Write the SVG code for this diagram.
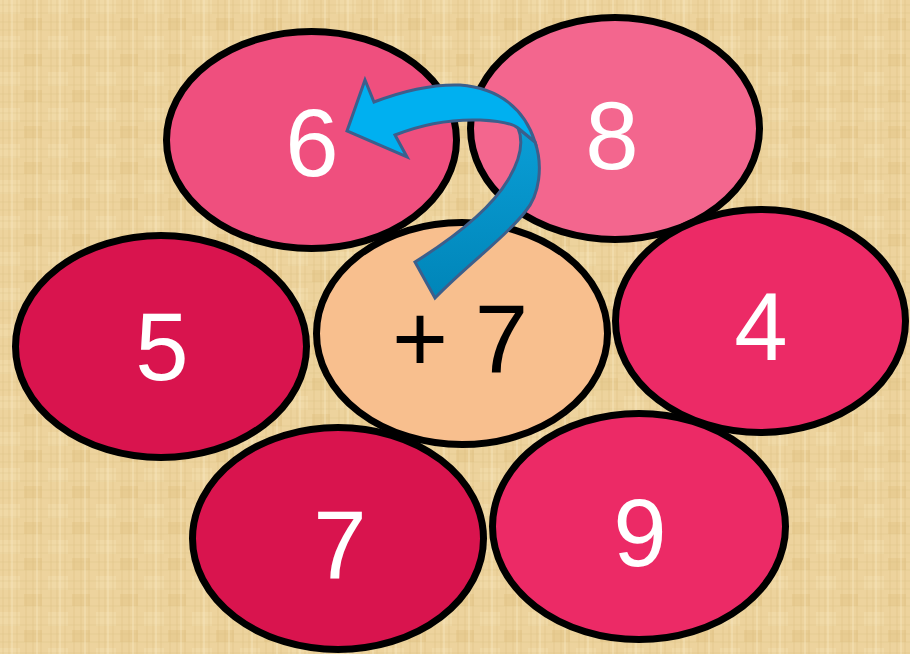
<svg xmlns="http://www.w3.org/2000/svg" width="910" height="654" viewBox="0 0 910 654">
  <style>
    .pet { stroke: #000; stroke-width: 7; }
    .num { font-family: "Liberation Sans", Arial, sans-serif; font-size: 96px; fill: #fff; text-anchor: middle; }
    .ctr { fill: #000; }
    .arw { stroke: #3c5f8c; stroke-width: 3; stroke-linejoin: miter; }
  </style>
  <defs>
    <pattern id="paper" width="48" height="36" patternUnits="userSpaceOnUse">
      <rect width="48" height="36" fill="#edd39d"/>
      <rect x="0" y="0" width="20" height="14" fill="#f2dcaa" opacity="0.7"/>
      <rect x="24" y="18" width="18" height="12" fill="#e4c687" opacity="0.5"/>
      <path d="M3 0V36M9 0V36M17 0V36M26 0V36M33 0V36M41 0V36" stroke="#d6b877" stroke-width="1" opacity="0.35"/>
      <path d="M0 5H48M0 13H48M0 22H48M0 30H48" stroke="#dabd7f" stroke-width="1" opacity="0.35"/>
      <path d="M12 0V36M37 0V36" stroke="#f7e6bf" stroke-width="1.5" opacity="0.5"/>
    </pattern>
    <linearGradient id="dk" x1="0" y1="0" x2="0" y2="1">
      <stop offset="0" stop-color="#0a9ed6"/>
      <stop offset="1" stop-color="#0085b8"/>
    </linearGradient>
  </defs>
  <rect width="910" height="654" fill="url(#paper)"/>

  <g id="n6"><ellipse class="pet" cx="311.5" cy="140" rx="145" ry="108.5" fill="#ef4f7e"/><text class="num" x="312" y="176">6</text></g>
  <g id="n8"><ellipse class="pet" cx="615" cy="128.5" rx="144.5" ry="111" fill="#f3668e"/><text class="num" x="612" y="169">8</text></g>
  <g id="n5"><ellipse class="pet" cx="161" cy="346.5" rx="145.5" ry="111" fill="#d9144e"/><text class="num" x="162" y="380">5</text></g>
  <g id="n4"><ellipse class="pet" cx="760.5" cy="321" rx="145" ry="111.5" fill="#ec2a66"/><text class="num" x="761" y="360">4</text></g>
  <g id="n7"><ellipse class="pet" cx="338" cy="538.5" rx="145.5" ry="111" fill="#d9144e"/><text class="num" x="340" y="578">7</text></g>
  <g id="n9"><ellipse class="pet" cx="639" cy="526.5" rx="146.5" ry="113" fill="#ec2a66"/><text class="num" x="640" y="566">9</text></g>
  <g id="center"><ellipse class="pet" cx="462" cy="333.5" rx="145.5" ry="111" fill="#f8bf8e"/><text class="num ctr" x="460" y="372">+ 7</text></g>

  <g id="connectors">
    <path class="arw" fill="url(#dk)" d="M535,142 C543,165 540,195 525,212 C505,238 470,262 435,298 L415,262 C450,240 490,210 508,180 C520,160 524,142 518,128 Z"/>
    <path class="arw" fill="#00b0f0" d="M535,142 C525,110 500,88 460,85 C430,84 400,92 374,102 L365,80 L347,131 L407,157 L395,135 C420,125 450,119 480,120 C500,121 512,123 518,128 Z"/>
  </g>
</svg>
